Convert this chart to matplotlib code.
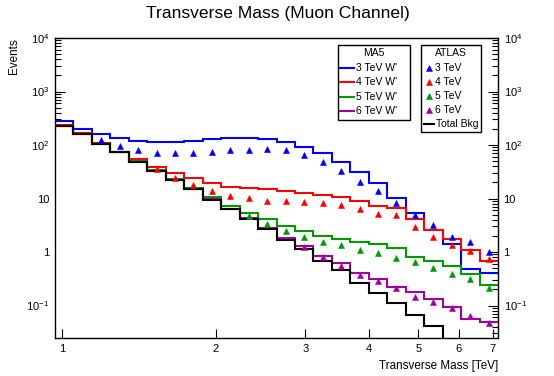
import numpy as np
import matplotlib
matplotlib.use('Agg')
import matplotlib.pyplot as plt
from matplotlib.ticker import FixedLocator, FixedFormatter, NullFormatter
from matplotlib.lines import Line2D
from matplotlib.patches import Rectangle

plt.rcParams['font.family'] = ['Liberation Sans', 'DejaVu Sans']
plt.rcParams['mathtext.fontset'] = 'custom'
plt.rcParams['mathtext.rm'] = 'Liberation Sans'
plt.rcParams['mathtext.it'] = 'Liberation Sans:italic'
plt.rcParams['mathtext.bf'] = 'Liberation Sans:bold'

# ---------------- data ----------------
x_low, x_high, n_bins = 0.968, 7.17, 24

ma5_3tev = [281, 199, 163, 133, 120, 115, 115, 120, 128, 135, 135, 128,
            113, 93, 70, 48.8, 31.7, 19.4, 10.1, 5.3, 2.58, 1.41, 0.475, 0.40]
ma5_4tev = [237, 167, 109, 75, 54, 39.3, 29.6, 23.9, 19.7, 16.6, 15.5, 14.9,
            14.0, 12.8, 11.6, 10.8, 9.1, 7.4, 6.6, 4.1, 2.58, 1.73, 1.09, 0.68]
ma5_5tev = [228, 159, 105, 74, 50, 34.1, 23.1, 15.5, 10.6, 7.2, 5.3, 4.1,
            3.06, 2.50, 1.99, 1.73, 1.56, 1.43, 1.17, 0.82, 0.68, 0.55, 0.39, 0.24]
ma5_6tev = [227, 158, 104, 73.5, 49, 33, 22.5, 15.1, 9.8, 6.4, 4.3, 2.77,
            1.80, 1.29, 0.84, 0.62, 0.41, 0.31, 0.224, 0.18, 0.13, 0.095, 0.055, 0.050]
total_bkg = [226, 158, 104, 73, 48.8, 32.7, 22.2, 14.9, 9.4, 6.3, 4.1, 2.66,
             1.68, 1.12, 0.68, 0.46, 0.267, 0.173, 0.11, 0.066, 0.041, 0.02, 0.015, 0.01]

atlas_3tev_start = 2
atlas_3tev = [125, 96, 81, 71, 70, 71, 73, 79, 82, 84, 79, 65, 47.5, 32.7,
              20.6, 14.0, 8.4, 5.0, 3.2, 1.93, 1.52, 0.99]
atlas_4tev_start = 5
atlas_4tev = [35.2, 23.9, 17.9, 13.8, 11.3, 10.1, 9.1, 9.1, 8.5, 8.1, 7.6,
              6.4, 5.1, 4.9, 2.97, 1.88, 1.35, 1.06, 0.74]
atlas_5tev_start = 10
atlas_5tev = [4.7, 3.33, 2.47, 1.88, 1.56, 1.35, 1.09, 0.95, 0.78, 0.66,
              0.50, 0.39, 0.31, 0.21]
atlas_6tev_start = 13
atlas_6tev = [1.26, 0.80, 0.55, 0.37, 0.29, 0.21, 0.146, 0.118, 0.089, 0.064, 0.048]

y_major = [1e-1, 1, 10, 1e2, 1e3, 1e4]
y_major_labels = ['$10^{-1}$', '1', '10', '$10^{2}$', '$10^{3}$', '$10^{4}$']
x_ticks = [1, 2, 3, 4, 5, 6, 7]
x_tick_labels = ['1', '2', '3', '4', '5', '6', '7']

c_blue, c_red, c_green, c_purple, c_black = '#0000ff', '#ff0000', '#009a00', '#a000a0', '#000000'

# ---------------- figure ----------------
W, H = 554, 376
fig = plt.figure(figsize=(W / 100, H / 100), dpi=100)
L, R, T, B = 55, 498, 38, 338
ax = fig.add_axes([L / W, 1 - B / H, (R - L) / W, (B - T) / H])

def fx(x):
    return x / W

def fy(y):
    return 1 - y / H

edges = np.geomspace(x_low, x_high, n_bins + 1)
centers = np.sqrt(edges[:-1] * edges[1:])

lw = 1.5
ms = 4.6
for vals, col in [(ma5_3tev, c_blue), (ma5_4tev, c_red), (ma5_5tev, c_green),
                  (ma5_6tev, c_purple), (total_bkg, c_black)]:
    ax.stairs(vals, edges, color=col, lw=lw, baseline=None, zorder=3)

for start, vals, col in [(atlas_3tev_start, atlas_3tev, c_blue),
                         (atlas_4tev_start, atlas_4tev, c_red),
                         (atlas_5tev_start, atlas_5tev, c_green),
                         (atlas_6tev_start, atlas_6tev, c_purple)]:
    ax.plot(centers[start:start + len(vals)], vals, ls='none', marker='^',
            ms=ms, color=col, mec=col, mew=0.4, zorder=5)

ax.set_xscale('log')
ax.set_yscale('log')
ax.set_xlim(x_low, x_high)
ax.set_ylim(0.0247, 1e4)

ax.xaxis.set_major_locator(FixedLocator(x_ticks))
ax.xaxis.set_major_formatter(FixedFormatter(x_tick_labels))
ax.xaxis.set_minor_locator(FixedLocator([]))
ax.xaxis.set_minor_formatter(NullFormatter())

minors = []
for d in [0.01, 0.1, 1, 10, 100, 1000]:
    for k in range(2, 10):
        minors.append(k * d)
ax.yaxis.set_major_locator(FixedLocator(y_major))
ax.yaxis.set_major_formatter(FixedFormatter(y_major_labels))
ax.yaxis.set_minor_locator(FixedLocator(minors))
ax.yaxis.set_minor_formatter(NullFormatter())

ax.tick_params(axis='x', which='major', direction='in', length=6.5, width=0.8,
               top=False, labelsize=8, pad=4.5)
ax.tick_params(axis='y', which='major', direction='in', length=7.5, width=0.8,
               left=True, right=True, labelleft=True, labelright=True, labelsize=8, pad=4)
ax.tick_params(axis='y', which='minor', direction='in', length=4, width=0.8,
               left=True, right=True)
for s in ax.spines.values():
    s.set_linewidth(1.0)

# left ticks hidden below the first histogram level (as in the reference)
fig.canvas.draw()
for t in ax.yaxis.get_major_ticks():
    if t.get_loc() < 290:
        t.tick1line.set_visible(False)
for t in ax.yaxis.get_minor_ticks():
    if t.get_loc() < 290:
        t.tick1line.set_visible(False)

# titles
fig.text(fx(278), fy(18.3), 'Transverse Mass (Muon Channel)', ha='center', va='baseline',
         fontsize=12.6)
fig.text(fx(498), fy(366), 'Transverse Mass [TeV]', ha='right', va='center', fontsize=8.4)
fig.text(fx(14), fy(38), 'Events', ha='center', va='top', rotation=90, fontsize=8.4)

# legends (drawn in figure pixel space)
leg_fs = 7.5
def box(x0, y0, x1, y1):
    fig.patches.append(Rectangle((fx(x0), fy(y1)), fx(x1) - fx(x0), fy(y0) - fy(y1),
                                 transform=fig.transFigure, fill=True, facecolor='white',
                                 edgecolor='black', lw=1.0, zorder=10))

box(338, 45, 410, 120)
fig.text(fx(374), fy(53), 'MA5', ha='center', va='center', fontsize=leg_fs, zorder=11)
ma5_labels = ["3 TeV W'", "4 TeV W'", "5 TeV W'", "6 TeV W'"]
ma5_cols = [c_blue, c_red, c_green, c_purple]
rows = [67.7, 82.2, 96.7, 111.2]
for lab, col, yy in zip(ma5_labels, ma5_cols, rows):
    fig.lines.append(Line2D([fx(340), fx(354)], [fy(yy), fy(yy)], color=col, lw=lw,
                            transform=fig.transFigure, zorder=11))
    fig.text(fx(356), fy(yy), lab, ha='left', va='center', fontsize=leg_fs, zorder=11)

box(421, 45, 481, 132)
fig.text(fx(451), fy(53), 'ATLAS', ha='center', va='center', fontsize=leg_fs, zorder=11)
atlas_labels = ['3 TeV', '4 TeV', '5 TeV', '6 TeV']
rows2 = [67.7, 82.0, 96.3, 110.3]
for lab, col, yy in zip(atlas_labels, ma5_cols, rows2):
    fig.lines.append(Line2D([fx(428.5)], [fy(yy)], ls='none', marker='^', ms=ms, mew=0.4,
                            color=col, transform=fig.transFigure, zorder=11))
    fig.text(fx(435), fy(yy), lab, ha='left', va='center', fontsize=leg_fs, zorder=11)
fig.lines.append(Line2D([fx(424), fx(434)], [fy(124.3), fy(124.3)], color=c_black, lw=lw,
                        transform=fig.transFigure, zorder=11))
fig.text(fx(436), fy(124.3), 'Total Bkg', ha='left', va='center', fontsize=leg_fs, zorder=11)

fig.savefig('out.png', dpi=100)
